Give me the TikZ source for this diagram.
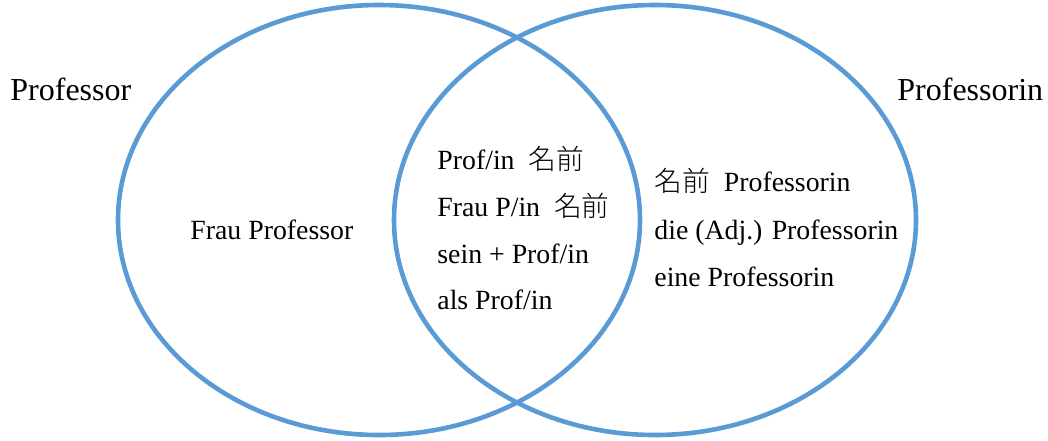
\documentclass[tikz,border=0pt]{standalone}
\usepackage{fontspec}
\setmainfont{Liberation Serif}
\newfontfamily\cjk{Noto Sans CJK JP Light}
\usetikzlibrary{shapes.geometric}
\definecolor{vennblue}{RGB}{91,155,213}
\begin{document}
\begin{tikzpicture}[x=0.5pt,y=-0.5pt,
  setbox/.style={draw=vennblue,line width=2.3pt,ellipse,inner sep=0pt,minimum width=261pt,minimum height=215pt},
  inner/.style={anchor=base west,inner sep=0pt,font=\fontsize{13.9pt}{16pt}\selectfont},
  label/.style={anchor=base west,inner sep=0pt,font=\fontsize{16pt}{18pt}\selectfont}]
\useasboundingbox (0,0) rectangle (1048,440);
\node[setbox] (L) at (379,220) {};
\node[setbox] (R) at (655,220) {};
\node[label] (lp) at (10,100) {Professor};
\node[label] (rp) at (897,100) {Professorin};
\node[inner] (fp) at (190,239) {Frau Professor};
\node[inner] (m1) at (437,169) {Prof/in\ \ {\cjk 名前}};
\node[inner] (m2) at (437,216) {Frau P/in\ \ {\cjk 名前}};
\node[inner] (m3) at (437,263) {sein + Prof/in};
\node[inner] (m4) at (437,309) {als Prof/in};
\node[inner] (r1) at (654,191) {{\cjk 名前}\ \ Professorin};
\node[inner] (r2) at (654,239) {die (Adj.) Professorin};
\node[inner] (r3) at (654,286) {eine Professorin};
\end{tikzpicture}
\end{document}
